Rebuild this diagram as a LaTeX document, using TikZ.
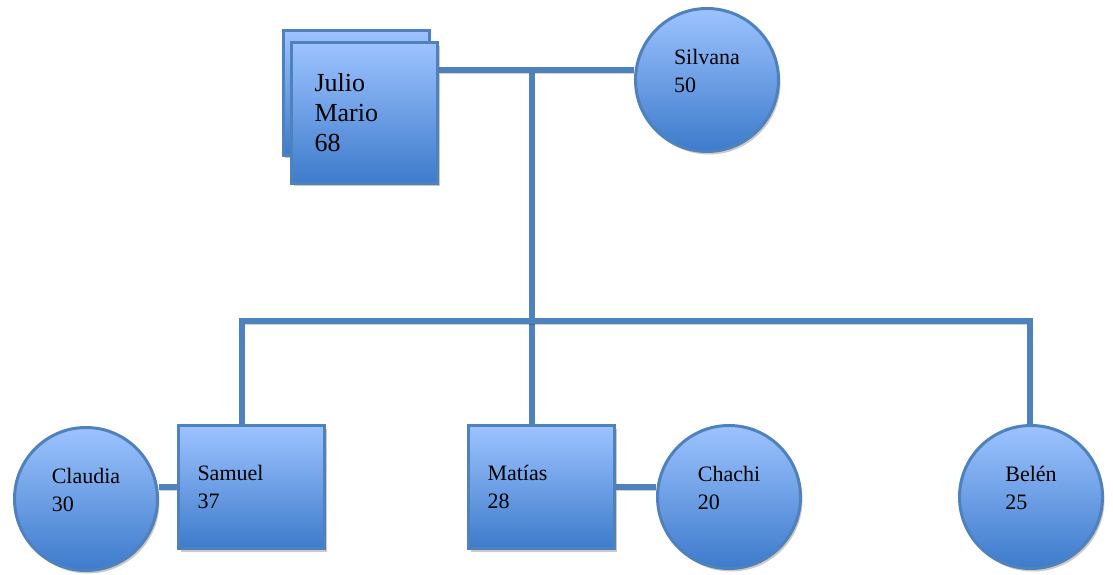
\documentclass[tikz,border=0pt]{standalone}
\usepackage{fontspec}
\setmainfont{Liberation Serif}
\usetikzlibrary{shadows,backgrounds}
\definecolor{accent}{HTML}{4F81BD}
\definecolor{toplight}{HTML}{9DC3FF}
\definecolor{botdark}{HTML}{3D7BCB}
\tikzset{
  person/.style={draw=accent, line width=3pt, top color=toplight, bottom color=botdark,
    drop shadow={shadow xshift=2pt, shadow yshift=-3pt, opacity=.35, fill=black!60},
    font=\fontsize{22}{28}\selectfont},
  male/.style={person, rectangle, minimum height=123pt, text width=108pt, inner xsep=19pt, align=left},
  female/.style={person, circle, minimum size=143pt, inner sep=0pt,
    label={[font=\fontsize{22}{28}\selectfont, align=left, yshift=9pt]center:{#1}}},
  link/.style={line width=6pt, draw=accent,
    preaction={draw=black, opacity=.18, transform canvas={xshift=1pt, yshift=-3pt}}}
}
\begin{document}
\begin{tikzpicture}[x=1pt,y=-1pt]
\useasboundingbox (0,0) rectangle (1113,575);
\node[male, minimum height=124pt] (juliob) at (356,93) {}; % the second box
\node[male, minimum height=140pt, text width=100pt, inner xsep=23pt, font=\fontsize{26}{30}\selectfont] (julio) at (364.5,113) {Julio\\Mario\\68};
\node[female={Silvana\\50}, label distance=0pt] (silvana) at (707,80) {};
\node[female={Claudia\\30}] (claudia) at (86,499) {};
\node[male] (samuel) at (251.5,487) {Samuel\\37};
\node[male] (matias) at (541.5,487) {Matías\\28};
\node[female={Chachi\\20}] (chachi) at (729,497) {};
\node[female={Belén\\25}] (belen) at (1031,497) {};

\coordinate (couple) at (532,70);
\coordinate (busL) at (242,321);
\coordinate (busR) at (1030,321);
\begin{scope}[on background layer]
\draw[link] (julio.east |- couple) -- (silvana.west |- couple);
\draw[link] (couple) -- (matias.north -| couple);
\draw[link] (samuel.north -| busL) -- (busL) -- (busR) -- (belen.north -| busR);
\draw[link] (claudia.east |- samuel.west) -- (samuel.west);
\draw[link] (matias.east) -- (chachi.west |- matias.east);
\end{scope}
\end{tikzpicture}
\end{document}
